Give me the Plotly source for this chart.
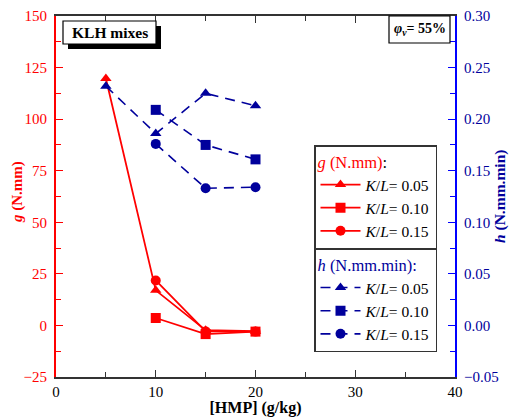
import plotly.graph_objects as go

# HMP dosage (g/kg)
hmp_005 = [5, 10, 15, 20]
hmp_010 = [10, 15, 20]
hmp_015 = [10, 15, 20]

# g (N.mm), left axis
g_005 = [119.7, 17.0, -2.3, -2.8]
g_010 = [3.6, -4.2, -3.0]
g_015 = [21.8, -2.9, -3.0]

# h (N.mm.min), right axis
h_005 = [0.232, 0.186, 0.225, 0.213]
h_010 = [0.209, 0.175, 0.161]
h_015 = [0.176, 0.133, 0.134]

RED = "#ff0000"
NAVY = "#00009c"
BLUE = "#0000ff"
FONT = "Liberation Serif, Times New Roman, serif"

# plot-area geometry in pixels (for placing boxes)
W, H = 509, 417
L, R, T, B = 56, 455, 16, 377


def px(x):
    return (x - L) / (R - L)


def py(y):
    return (B - y) / (B - T)


fig = go.Figure()

symbols = ["triangle-up", "square", "circle"]
labels = ["<i>K</i>/<i>L</i>= 0.05", "<i>K</i>/<i>L</i>= 0.10", "<i>K</i>/<i>L</i>= 0.15"]

for xs, ys, sym, lab in zip([hmp_005, hmp_010, hmp_015], [g_005, g_010, g_015], symbols, labels):
    fig.add_trace(go.Scatter(
        x=xs, y=ys, mode="lines+markers", name=lab,
        line=dict(color=RED, width=1.8),
        marker=dict(symbol=sym, size=10, color=RED),
        legend="legend", yaxis="y",
    ))

for xs, ys, sym, lab in zip([hmp_005, hmp_010, hmp_015], [h_005, h_010, h_015], symbols, labels):
    fig.add_trace(go.Scatter(
        x=xs, y=ys, mode="lines+markers", name=lab,
        line=dict(color=NAVY, width=1.6, dash="10px,7px"),
        marker=dict(symbol=sym, size=10, color=NAVY),
        legend="legend2", yaxis="y2",
    ))

fig.update_layout(
    width=W, height=H,
    margin=dict(l=L, r=W - R, t=T, b=H - B, autoexpand=False),
    paper_bgcolor="white", plot_bgcolor="white",
    font=dict(family=FONT, size=15, color="black"),
    xaxis=dict(
        range=[0, 40], dtick=10, tick0=0, automargin=False,
        ticks="inside", ticklen=7, tickwidth=1.2, tickcolor="#333",
        minor=dict(dtick=5, ticks="inside", ticklen=5, tickcolor="#333"),
        showline=True, linecolor="#333", linewidth=1.5, mirror="ticks",
        showgrid=False, zeroline=False,
        tickfont=dict(family=FONT, size=15, color="black"),
        title=dict(text="<b>[HMP] (g/kg)</b>", font=dict(family=FONT, size=16, color="black"), standoff=2),
    ),
    yaxis=dict(
        range=[-25, 150], dtick=25, tick0=0, automargin=False,
        ticks="inside", ticklen=7, tickwidth=1.2, tickcolor=RED,
        minor=dict(dtick=12.5, ticks="inside", ticklen=5, tickcolor=RED),
        showline=True, linecolor=RED, linewidth=2,
        showgrid=False, zeroline=False, ticklabelstandoff=4,
        tickfont=dict(family=FONT, size=15, color=RED),
    ),
    yaxis2=dict(
        range=[-0.05, 0.30], dtick=0.05, tick0=0, tickformat=".2f", automargin=False,
        overlaying="y", side="right",
        ticks="inside", ticklen=7, tickwidth=1.2, tickcolor=BLUE,
        minor=dict(dtick=0.025, ticks="inside", ticklen=5, tickcolor=BLUE),
        showline=True, linecolor=BLUE, linewidth=2,
        showgrid=False, zeroline=False, ticklabelstandoff=4,
        tickfont=dict(family=FONT, size=15, color=NAVY),
    ),
    legend=dict(
        x=px(314), y=py(145), xanchor="left", yanchor="top",
        bgcolor="white", bordercolor="#333", borderwidth=1.5,
        title=dict(text="<i>g</i> (N.mm)<span style='color:black'>:</span>",
                   font=dict(family=FONT, size=16.5, color=RED)),
        font=dict(family=FONT, size=15.5, color="black"),
        tracegroupgap=0, itemwidth=40,
    ),
    legend2=dict(
        x=px(314), y=py(248), xanchor="left", yanchor="top",
        bgcolor="white", bordercolor="#333", borderwidth=1.5,
        title=dict(text="<i>h</i> (N.mm.min):",
                   font=dict(family=FONT, size=16.5, color=NAVY)),
        font=dict(family=FONT, size=15.5, color="black"),
        tracegroupgap=0, itemwidth=40,
    ),
    showlegend=True,
)

# axis titles
fig.add_annotation(xref="paper", yref="paper", x=px(17), y=py(192),
                   text="<b><i>g</i> (N.mm)</b>", showarrow=False, textangle=-90,
                   font=dict(family=FONT, size=15, color=RED),
                   xanchor="center", yanchor="middle")
fig.add_annotation(xref="paper", yref="paper", x=px(500), y=py(197),
                   text="<b><i>h</i> (N.mm.min)</b>", showarrow=False, textangle=-90,
                   font=dict(family=FONT, size=15.5, color=NAVY),
                   xanchor="center", yanchor="middle")

# "KLH mixes" label box with drop shadow
fig.add_shape(type="rect", xref="paper", yref="paper",
              x0=px(68), x1=px(161), y0=py(49), y1=py(26),
              fillcolor="black", line=dict(width=0), layer="above")
fig.add_shape(type="rect", xref="paper", yref="paper",
              x0=px(63), x1=px(156), y0=py(44), y1=py(21),
              fillcolor="white", line=dict(color="black", width=1.2), layer="above")
fig.add_annotation(xref="paper", yref="paper", x=px(109.5), y=py(32.5),
                   text="<b>KLH mixes</b>", showarrow=False,
                   font=dict(family=FONT, size=15.5, color="black"),
                   xanchor="center", yanchor="middle")

# volume fraction label box
fig.add_shape(type="rect", xref="paper", yref="paper",
              x0=px(389), x1=px(450), y0=py(43), y1=py(16),
              fillcolor="white", line=dict(color="black", width=1.2), layer="above")
fig.add_annotation(xref="paper", yref="paper", x=px(419.5), y=py(29.5),
                   text="<b><i>φ</i><sub><i>v</i></sub>= 55%</b>", showarrow=False,
                   font=dict(family=FONT, size=14, color="black"),
                   xanchor="center", yanchor="middle")

fig.write_html("out.html")
